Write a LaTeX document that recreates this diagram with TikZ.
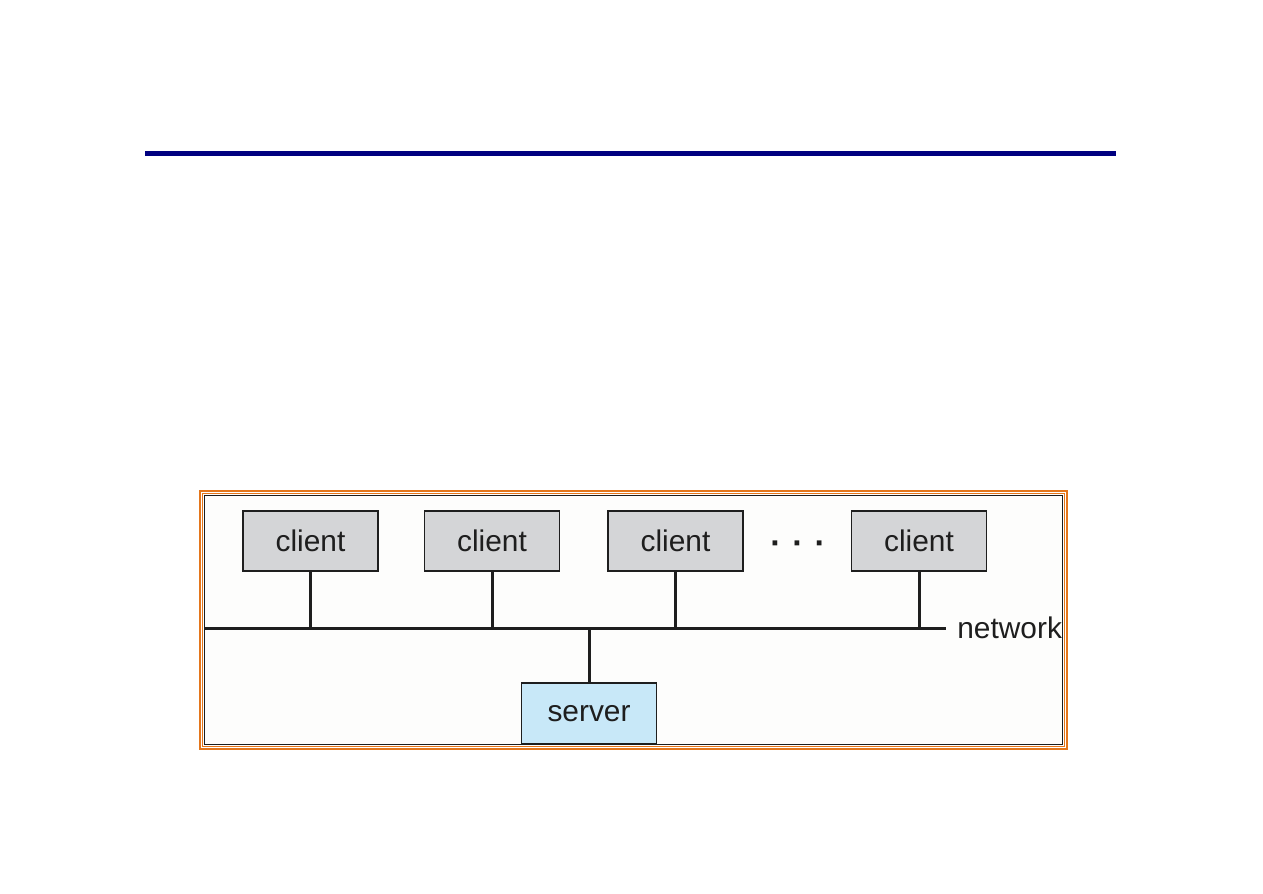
\documentclass[tikz,border=0pt]{standalone}
\usepackage{fontspec}
\setmainfont{Liberation Sans}
\definecolor{navyline}{RGB}{0,0,128}
\definecolor{frameorange}{RGB}{228,118,28}
\definecolor{clientgray}{RGB}{212,213,215}
\definecolor{serverblue}{RGB}{200,232,248}
\definecolor{panel}{RGB}{253,253,252}
\definecolor{ink}{RGB}{30,30,30}
\begin{document}
\begin{tikzpicture}[x=0.02cm,y=-0.02cm,
  box/.style={draw=ink,line width=0.8pt,minimum width=2.7cm,minimum height=1.2cm,inner sep=0pt,font=\fontsize{17}{20}\selectfont,text=ink},
  clientbox/.style={box,fill=clientgray},
  serverbox/.style={box,fill=serverblue},
  wire/.style={draw=ink,line width=1.7pt},
  lbl/.style={font=\fontsize{17}{20}\selectfont,text=ink,inner sep=0pt}]
\useasboundingbox (0,0) rectangle (1263,893);
% title rule
\draw[navyline,line width=2.85pt] (145,153) -- (1116,153);
% frame
\draw[frameorange,line width=0.7pt] (200,491) rectangle (1067,749);
\draw[frameorange,line width=0.7pt] (202.5,493.5) rectangle (1064.5,746.5);
\draw[ink,fill=panel,line width=0.8pt] (204.5,495.5) rectangle (1062.5,744.5);
% network
\coordinate (netL) at (205,628);
\coordinate (netR) at (946,628);
\draw[wire] (netL) -- (netR);
\node[lbl,anchor=west] (netlbl) at (957,628) {network};
% clients
\node[clientbox] (c1) at (310.5,541) {client};
\node[clientbox] (c2) at (492,541) {client};
\node[clientbox] (c3) at (675.5,541) {client};
\node[clientbox] (c4) at (919,541) {client};
\node[lbl,font=\fontsize{19}{20}\selectfont\bfseries] (dots) at (798,548) {·\hspace{0.22cm}·\hspace{0.22cm}·};
\foreach \c in {c1,c2,c3,c4}{
  \draw[wire] (\c.south) -- (\c.south |- netL);
}
% server
\node[serverbox,minimum height=1.22cm] (srv) at (589,713.5) {server};
\draw[wire] (srv.north) -- (srv.north |- netL);
\end{tikzpicture}
\end{document}
